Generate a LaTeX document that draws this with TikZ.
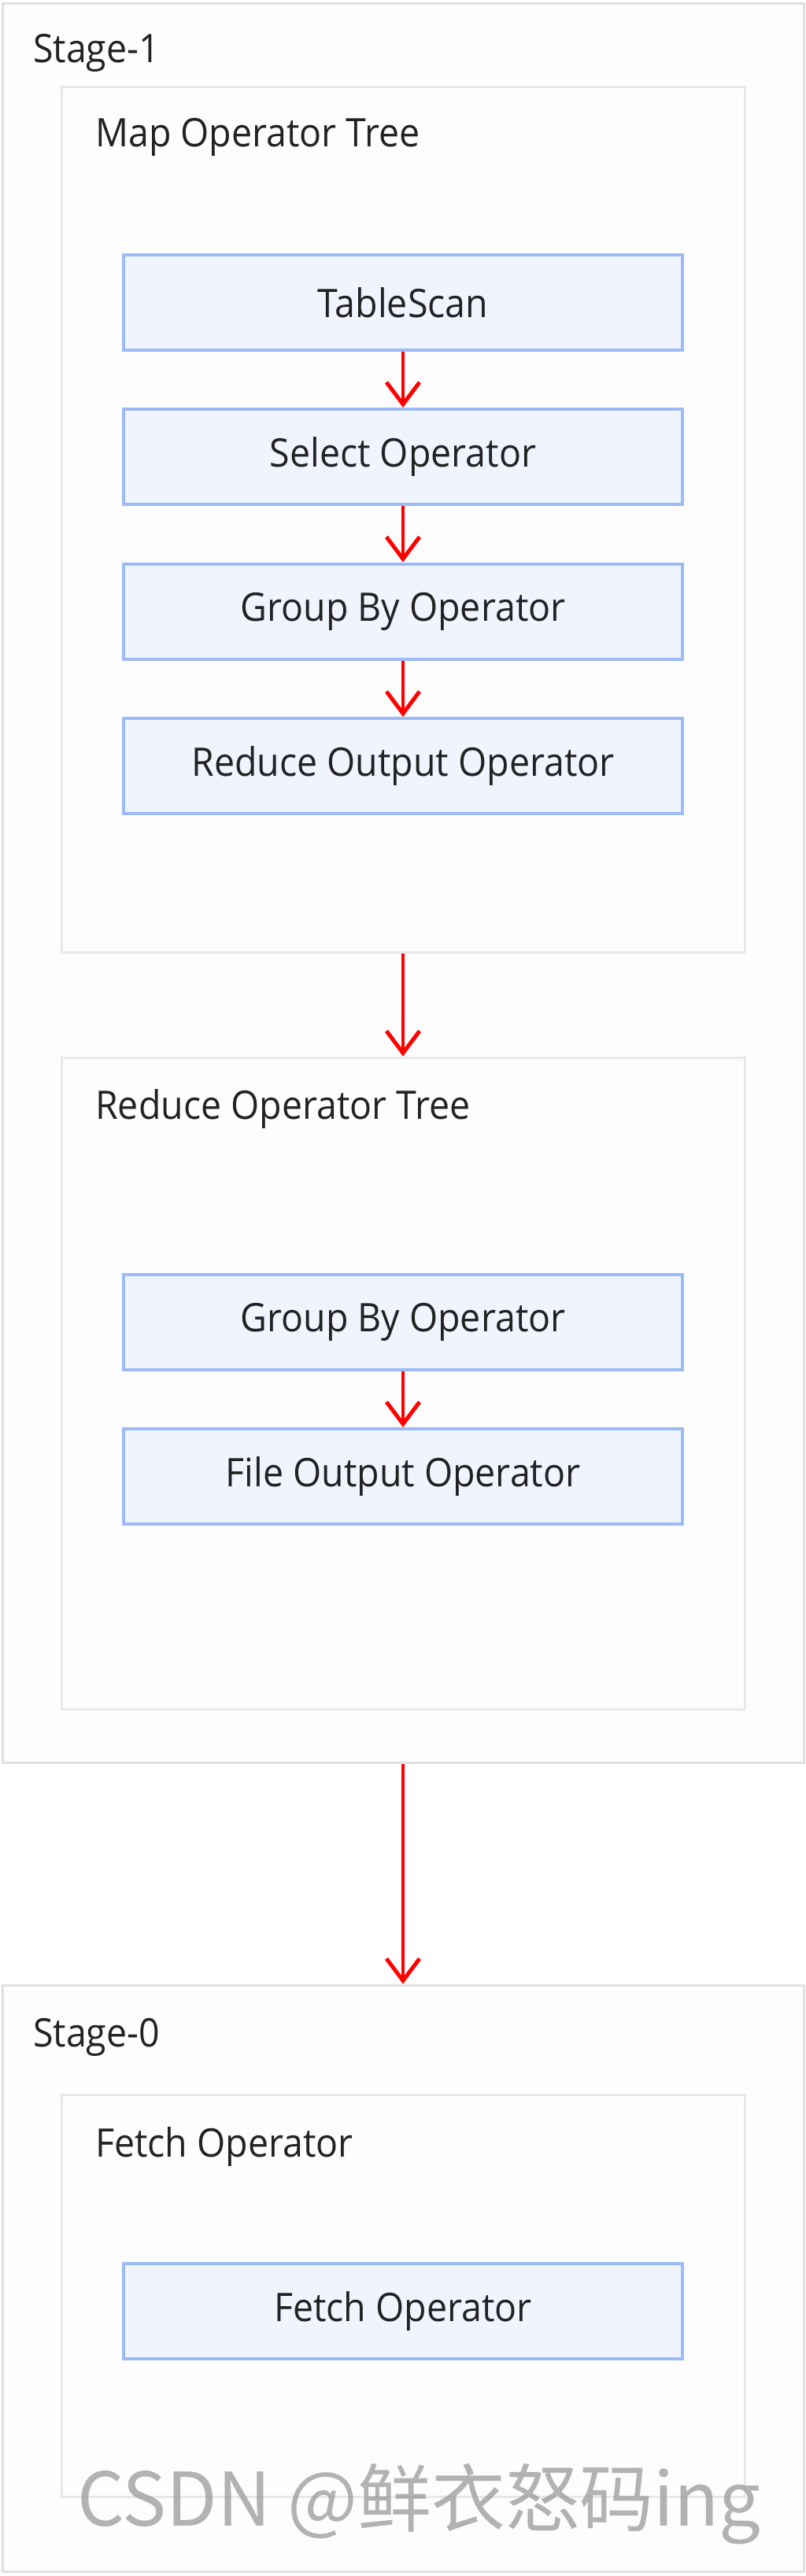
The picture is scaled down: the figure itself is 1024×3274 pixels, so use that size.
\documentclass[tikz,border=0pt]{standalone}
\usepackage{fontspec}
\setmainfont{Open Sans}[FakeStretch=0.93]
\newfontfamily\cjk{Noto Sans CJK SC}
\usetikzlibrary{arrows.meta}
\definecolor{stagefill}{HTML}{FDFDFD}
\definecolor{stageline}{HTML}{E0E0E0}
\definecolor{treeline}{HTML}{E8E8E8}
\definecolor{opfill}{HTML}{EFF4FF}
\definecolor{opline}{HTML}{9CBBF6}
\definecolor{txt}{HTML}{222222}
\definecolor{arrowred}{HTML}{FF0000}
\tikzset{
  stagebox/.style={draw=stageline, line width=3pt, fill=stagefill, minimum width=1018pt, inner sep=0pt},
  treebox/.style={draw=treeline, line width=3pt, fill=stagefill, minimum width=868pt, inner sep=0pt},
  opbox/.style={draw=opline, line width=4pt, fill=opfill, minimum width=710pt, minimum height=121pt, inner sep=0pt,
    font=\fontsize{50pt}{60pt}\selectfont, text=txt},
  lbl/.style={anchor=base west, inner sep=0pt, font=\fontsize{50pt}{60pt}\selectfont, text=txt},
  flow/.style={draw=arrowred, line width=4.5pt, -{Straight Barb[length=28pt,width=42pt,line width=5pt]}},
}
\begin{document}
\begin{tikzpicture}[x=1pt,y=-1pt]
\useasboundingbox (0,0) rectangle (1024,3274);
\fill[white] (0,0) rectangle (1024,3274);
% Stage-1
\node[stagebox, minimum height=2236pt] (stage1) at (512,1122) {};
\node[lbl] (stage1lbl) at (42,79) {Stage-1};
\node[treebox, minimum height=1100pt] (maptree) at (512,660) {};
\node[lbl] (maplbl) at (121,186) {Map Operator Tree};
\node[opbox] (scan) at (512,384.5) {TableScan};
\node[opbox] (select) at (512,580.5) {Select Operator};
\node[opbox] (group1) at (512,777) {Group By Operator};
\node[opbox] (rso) at (512,973.5) {Reduce Output Operator};
\node[treebox, minimum height=828pt] (redtree) at (512,1758) {};
\node[lbl] (redlbl) at (121,1422) {Reduce Operator Tree};
\node[opbox] (group2) at (512,1680.5) {Group By Operator};
\node[opbox] (fso) at (512,1876.5) {File Output Operator};
% Stage-0
\node[stagebox, minimum height=745pt] (stage0) at (512,2895.5) {};
\node[lbl] (stage0lbl) at (42,2601) {Stage-0};
\node[treebox, minimum height=511pt] (fetchtree) at (512,2917.5) {};
\node[lbl] (fetchlbl) at (121,2741) {Fetch Operator};
\node[opbox] (fetch) at (512,2937.5) {Fetch Operator};
% connectors
\draw[flow] (scan.south) -- (select.north);
\draw[flow] (select.south) -- (group1.north);
\draw[flow] (group1.south) -- (rso.north);
\draw[flow] (maptree.south) -- (redtree.north);
\draw[flow] (group2.south) -- (fso.north);
\draw[flow] (stage1.south) -- (stage0.north);
% watermark
\node[anchor=base west, inner sep=0pt, text=black!40, opacity=0.75, font=\cjk\fontsize{94pt}{100pt}\selectfont] (wm) at (98,3210) {CSDN @鲜衣怒码ing};
\end{tikzpicture}
\end{document}
